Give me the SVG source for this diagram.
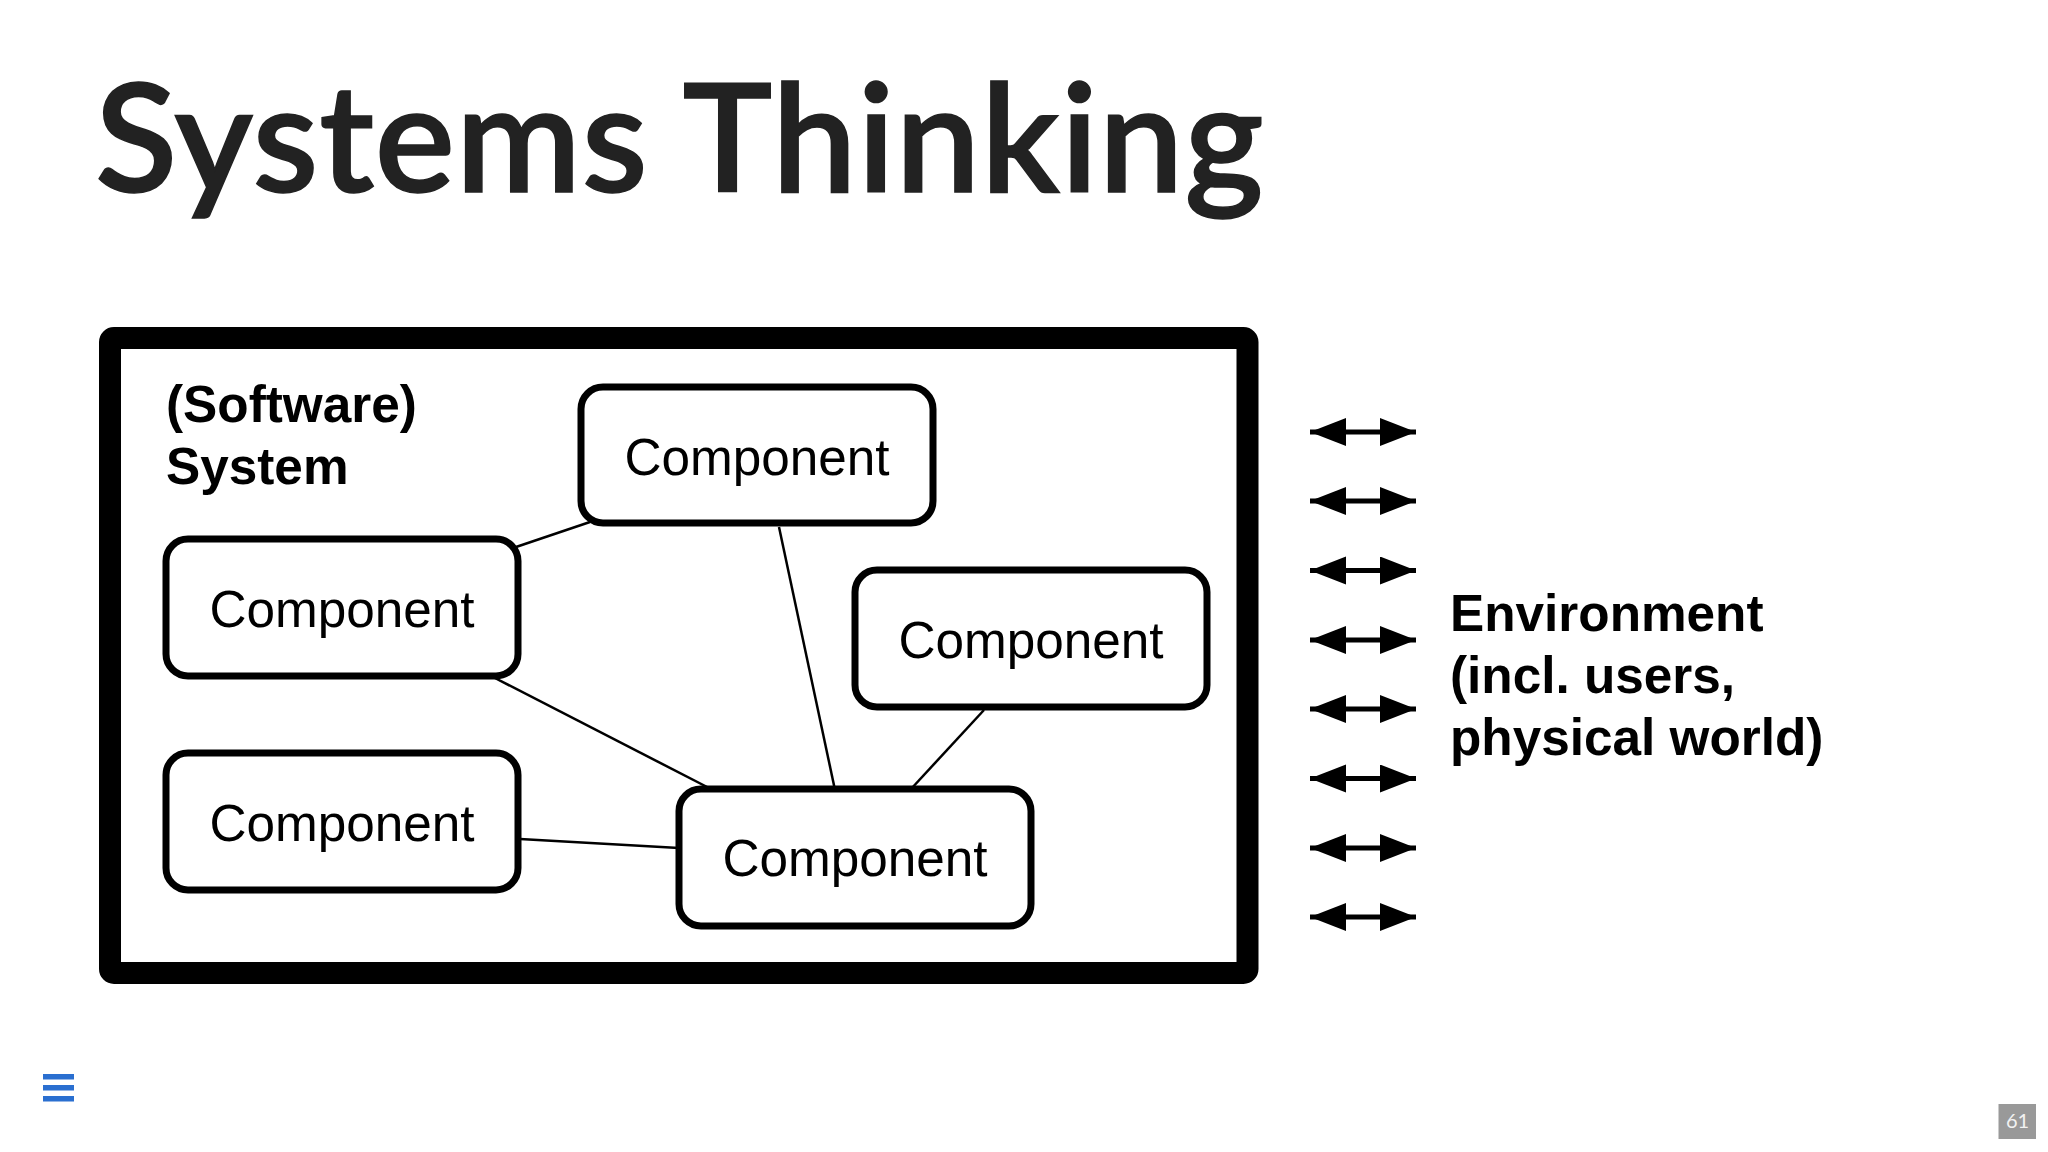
<svg xmlns="http://www.w3.org/2000/svg" width="2048" height="1152" viewBox="0 0 2048 1152">
<defs>
<marker id="a" markerUnits="userSpaceOnUse" markerWidth="38" markerHeight="30" refX="36" refY="14" orient="auto-start-reverse"><path d="M0 0L36 14L0 28Z" fill="#000"/></marker>
</defs>
<style>
.c rect{fill:#fff;stroke:#000;stroke-width:7}
.c text{font:51.300px "Liberation Sans",Arial,sans-serif;text-anchor:middle;fill:#000}
.b{font:bold 51.300px "Liberation Sans",Arial,sans-serif;fill:#000}
.l line{stroke:#000;stroke-width:2.500}
.e line{stroke:#000;stroke-width:5;marker-start:url(#a);marker-end:url(#a)}
</style>
<rect width="2048" height="1152" fill="#fff"/>
<text id="title" x="95" y="192" font-family="Lato,sans-serif" font-size="151" font-weight="600" fill="#222" stroke="#222" stroke-width="1.500" letter-spacing="0.800">Systems Thinking</text>
<rect id="system" x="110" y="338" width="1137.500" height="635" rx="4" fill="#fff" stroke="#000" stroke-width="22"/>
<g class="l" id="connectors">
<line x1="516" y1="547" x2="590" y2="522"/>
<line x1="779" y1="527" x2="835" y2="790"/>
<line x1="493" y1="677" x2="711" y2="789"/>
<line x1="984" y1="710" x2="911" y2="789"/>
<line x1="520" y1="839" x2="679" y2="848"/>
</g>
<text class="b" x="166" y="422">(Software)</text>
<text class="b" x="166" y="484">System</text>
<g id="n1" class="c"><rect x="581" y="387" width="352" height="136" rx="22"/><text x="757" y="475">Component</text></g>
<g id="n2" class="c"><rect x="166" y="539" width="352" height="137" rx="22"/><text x="342" y="627">Component</text></g>
<g id="n3" class="c"><rect x="855" y="570" width="352" height="137" rx="22"/><text x="1031" y="658">Component</text></g>
<g id="n4" class="c"><rect x="166" y="753" width="352" height="137" rx="22"/><text x="342" y="841">Component</text></g>
<g id="n5" class="c"><rect x="679" y="789" width="352" height="137" rx="22"/><text x="855" y="876">Component</text></g>
<g class="e" id="arrows">
<line x1="1310" y1="432" x2="1416" y2="432"/>
<line x1="1310" y1="501" x2="1416" y2="501"/>
<line x1="1310" y1="570.500" x2="1416" y2="570.500"/>
<line x1="1310" y1="640" x2="1416" y2="640"/>
<line x1="1310" y1="709" x2="1416" y2="709"/>
<line x1="1310" y1="778.500" x2="1416" y2="778.500"/>
<line x1="1310" y1="848" x2="1416" y2="848"/>
<line x1="1310" y1="917" x2="1416" y2="917"/>
</g>
<text class="b" x="1450" y="631">Environment</text>
<text class="b" x="1450" y="693">(incl. users,</text>
<text class="b" x="1450" y="755">physical world)</text>
<g id="menu" fill="#2a6fd0"><rect x="43" y="1074" width="31" height="5.500"/><rect x="43" y="1085" width="31" height="5.500"/><rect x="43" y="1096" width="31" height="5.500"/></g>
<g id="page"><rect x="1998.500" y="1104" width="37.500" height="35" fill="#999"/><text x="2017.500" y="1128" font-family="Lato,sans-serif" font-size="20" fill="#f2f2f2" text-anchor="middle">61</text></g>
</svg>
